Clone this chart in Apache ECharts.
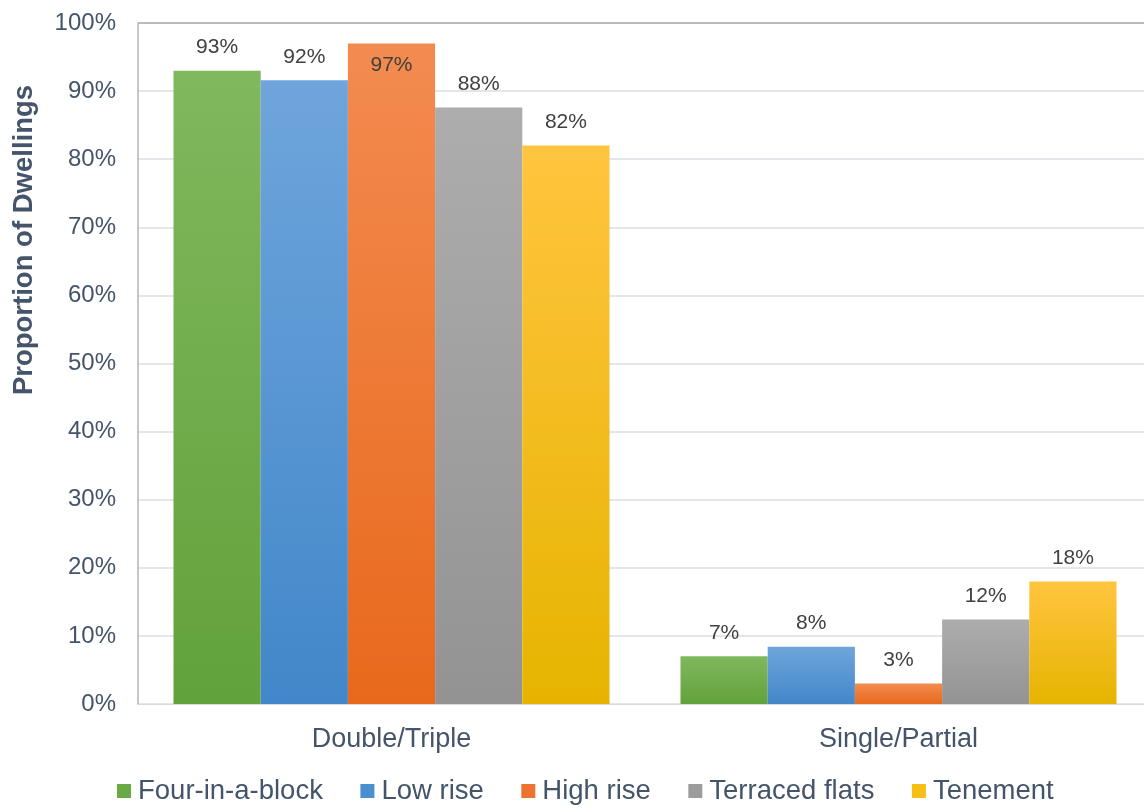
<!DOCTYPE html>
<html>
<head>
<meta charset="utf-8">
<script src="https://cdn.jsdelivr.net/npm/echarts@6/dist/echarts.min.js"></script>
<style>
  html, body { margin: 0; padding: 0; background: #fff; overflow: hidden; width: 1144px; height: 808px; }
  /* the plot area runs a few pixels past the right edge of the page */
  #chart { width: 1152px; height: 808px; }
</style>
</head>
<body>
<div id="chart"></div>
<script>
// Share of dwellings by glazing type, per building form
const categories = ['Double/Triple', 'Single/Partial'];
const seriesNames = ['Four-in-a-block', 'Low rise', 'High rise', 'Terraced flats', 'Tenement'];
const fourInABlock = [93, 7];
const lowRise = [91.6, 8.4];
const highRise = [97, 3];
const terracedFlats = [87.6, 12.4];
const tenement = [82, 18];
const yTicks = ['0%', '10%', '20%', '30%', '40%', '50%', '60%', '70%', '80%', '90%', '100%'];

const values = [fourInABlock, lowRise, highRise, terracedFlats, tenement];
// gradient stops: top colour, bottom colour
const palette = [
  ['#80B85E', '#62A23A'],
  ['#6FA5DC', '#4287C9'],
  ['#F38B50', '#E8691C'],
  ['#ADADAD', '#939393'],
  ['#FFC53F', '#E6B400']
];
const legendColors = ['#6AAA44', '#4A8FD0', '#EC7430', '#9C9C9C', '#F7BE15'];

const axisColor = '#44546A';
const font = 'Liberation Sans, Arial, sans-serif';

const series = values.map((vals, i) => ({
  name: seriesNames[i],
  type: 'bar',
  barGap: 0,
  barCategoryGap: '14%',
  data: vals.map(v => ({
    value: v,
    // the tallest bar carries its label inside, below the top edge
    label: v > 95 ? { position: 'insideTop', distance: 11 } : undefined
  })),
  itemStyle: {
    color: new echarts.graphic.LinearGradient(0, 0, 0, 1, [
      { offset: 0, color: palette[i][0] },
      { offset: 1, color: palette[i][1] }
    ])
  },
  label: {
    show: true,
    position: 'top',
    distance: 13,
    color: '#404040',
    fontFamily: font,
    fontSize: 21,
    formatter: p => Math.round(p.value) + '%'
  }
}));

const legendData = seriesNames.map((n, i) => ({
  name: n,
  itemStyle: { color: legendColors[i] }
}));

const splitColors = yTicks.map((t, i) => i === yTicks.length - 1 ? '#A6A6A6' : '#DADFE6');

const chart = echarts.init(document.getElementById('chart'));
chart.setOption({
  animation: false,
  backgroundColor: '#fff',
  grid: { left: 138, top: 23, right: 0, bottom: 104, containLabel: false },
  legend: {
    data: legendData,
    left: 117,
    top: 777,
    padding: 0,
    itemWidth: 14,
    itemHeight: 14,
    itemGap: 37.5,
    icon: 'rect',
    textStyle: { color: axisColor, fontFamily: font, fontSize: 27.5, padding: [0, 0, 0, 2] }
  },
  xAxis: {
    type: 'category',
    data: categories,
    axisLine: { show: true, lineStyle: { color: '#D9D9D9', width: 1 } },
    axisTick: { show: false },
    axisLabel: { color: axisColor, fontFamily: font, fontSize: 27, margin: 22 }
  },
  yAxis: {
    type: 'value',
    min: 0,
    max: 100,
    interval: 10,
    axisLine: { show: true, lineStyle: { color: '#B4B4B4', width: 1.5 } },
    axisTick: { show: false },
    splitLine: { show: true, lineStyle: { color: splitColors, width: 1.5 } },
    axisLabel: {
      color: axisColor,
      fontFamily: font,
      fontSize: 24,
      margin: 22,
      formatter: v => yTicks[Math.round(v / 10)]
    }
  },
  graphic: [{
    type: 'text',
    rotation: Math.PI / 2,
    x: 24,
    y: 240,
    style: {
      text: 'Proportion of Dwellings',
      fill: axisColor,
      font: 'bold 27.5px ' + font,
      textAlign: 'center',
      textVerticalAlign: 'middle'
    }
  }],
  series
});
</script>
</body>
</html>
